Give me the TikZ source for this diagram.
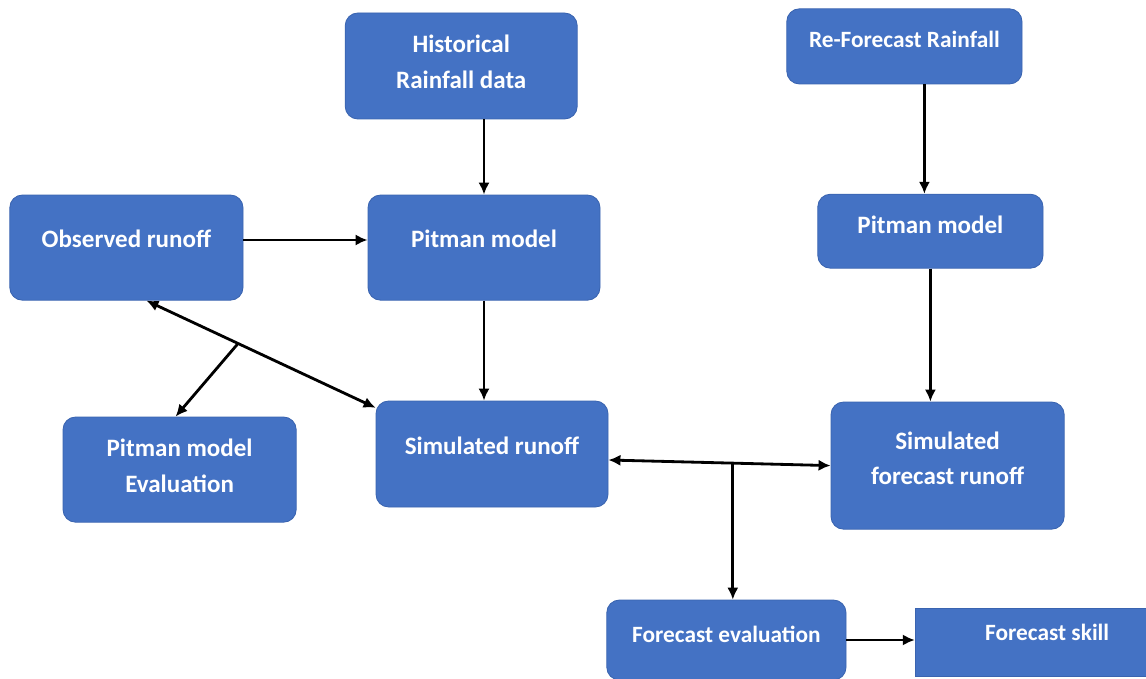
\documentclass[tikz,border=0pt]{standalone}
\usepackage{fontspec}
\setmainfont{Carlito}
\usepackage{xcolor}
\usepackage{tikz}
\usetikzlibrary{arrows.meta,positioning}
\definecolor{flowblue}{HTML}{4472C4}
\definecolor{flowedge}{HTML}{3A64B0}

\begin{document}
\begin{tikzpicture}[
  font=\bfseries\fontsize{17.8}{25.5}\selectfont,
  box/.style={draw=flowedge,line width=0.6pt,fill=flowblue,text=white,rounded corners=9pt,align=center,inner sep=2pt},
  sqbox/.style={box,rounded corners=0pt},
  small/.style={font=\bfseries\fontsize{16.6}{24}\selectfont},
  lift/.style={execute at end node={\rule[-#1]{0pt}{0pt}}},
  fl/.style={-{Latex[length=3mm,width=2.8mm]},draw=black,line width=2pt},
  fb/.style={{Latex[length=3mm,width=2.8mm]}-{Latex[length=3mm,width=2.8mm]},draw=black,line width=2pt},
]
\useasboundingbox (0,0) rectangle (28.65,-16.975);
\node[box,lift=0.2cm,minimum width=5.8cm,minimum height=2.65cm] (hist) at (11.53,-1.65) {Historical\\Rainfall data};
\node[box,small,lift=0.36cm,minimum width=5.88cm,minimum height=1.88cm] (refc) at (22.61,-1.16) {Re-Forecast Rainfall};
\node[box,lift=0.46cm,minimum width=5.8cm,minimum height=2.63cm] (pitA) at (12.1,-6.19) {Pitman model};
\node[box,lift=0.34cm,minimum width=5.63cm,minimum height=1.85cm] (pitB) at (23.26,-5.78) {Pitman model};
\node[box,lift=0.46cm,minimum width=5.83cm,minimum height=2.63cm] (obs) at (3.16,-6.19) {Observed runoff};
\node[box,lift=0.2cm,minimum width=5.83cm,minimum height=2.63cm] (peval) at (4.49,-11.74) {Pitman model\\Evaluation};
\node[box,lift=0.39cm,minimum width=5.8cm,minimum height=2.65cm] (simA) at (12.3,-11.35) {Simulated runoff};
\node[box,lift=0.37cm,minimum width=5.83cm,minimum height=3.18cm] (simB) at (23.69,-11.64) {Simulated\\forecast runoff};
\node[box,small,lift=0.3cm,minimum width=5.98cm,minimum height=2.0cm] (feval) at (18.16,-16.0) {Forecast evaluation};
\node[sqbox,small,lift=0.48cm,minimum width=6.6cm,minimum height=1.72cm] (skill) at (26.18,-16.06) {Forecast skill};
% inputs to the two models
\draw[fl] (hist.south -| pitA) -- (pitA.north);
\draw[fl] ([xshift=0.5cm]refc.south) -- ([xshift=0.5cm]refc.south |- pitB.north);
\draw[fl] ([yshift=0.19cm]obs.east) -- ([yshift=0.19cm]obs.east -| pitA.west);
\draw[fl] (pitA.south) -- (pitA.south |- simA.north);
\draw[fl] (pitB.south) -- (pitB.south |- simB.north);
% comparisons
\draw[fb] ([xshift=0.5cm]obs.south) -- coordinate[pos=0.4] (brA) ([yshift=-0.18cm]simA.north west);
\draw[fl] (brA) -- ([xshift=-0.1cm]peval.north);
\draw[fb] ([yshift=-0.15cm]simA.east) -- coordinate[pos=0.56] (brB) (simB.west);
\draw[fl] (brB) -- (brB |- feval.north);
\draw[fl] (feval.east) -- (feval.east -| skill.west);
\end{tikzpicture}
\end{document}
